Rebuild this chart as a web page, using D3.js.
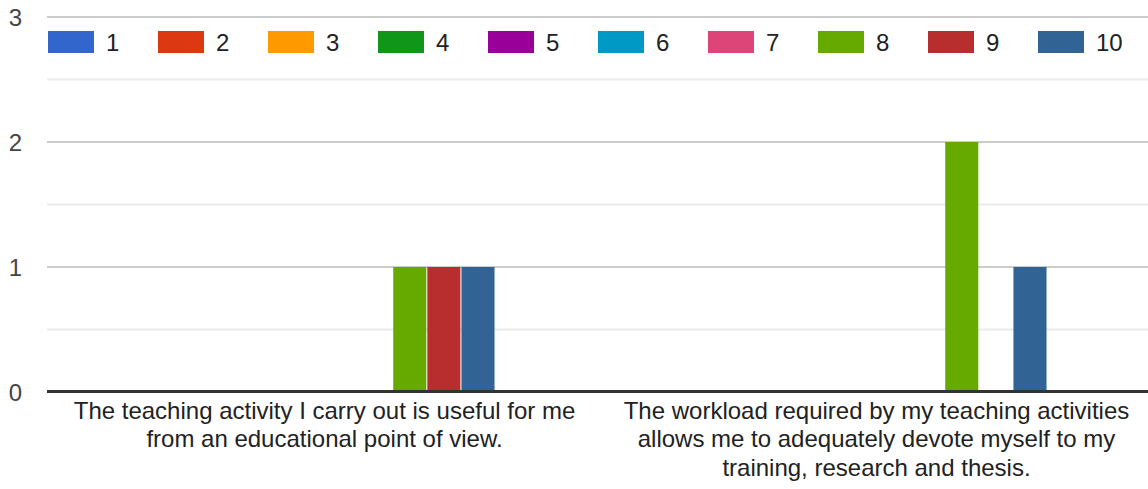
<!DOCTYPE html>
<html>
<head>
<meta charset="utf-8">
<script src="https://cdn.jsdelivr.net/npm/d3@7"></script>
<style>
  html, body { margin: 0; padding: 0; background: #fff; }
  svg { display: block; font-family: "Liberation Sans", Arial, sans-serif; }
</style>
</head>
<body>
<svg id="chart" width="1148" height="489"></svg>
<script>
// ---- data ----
const categories = [
  "The teaching activity I carry out is useful for me from an educational point of view.",
  "The workload required by my teaching activities allows me to adequately devote myself to my training, research and thesis."
];
const seriesNames = ["1", "2", "3", "4", "5", "6", "7", "8", "9", "10"];
const seriesColors = ["#3366cc", "#dc3912", "#ff9900", "#109618", "#990099", "#0099c6", "#dd4477", "#66aa00", "#b82e2e", "#316395"];
const valuesCategory1 = [0, 0, 0, 0, 0, 0, 0, 1, 1, 1];
const valuesCategory2 = [0, 0, 0, 0, 0, 0, 0, 2, 0, 1];
const yMajorTicks = [0, 1, 2, 3];
const yGridTicks = [0.5, 1, 1.5, 2, 2.5, 3];

const values = [valuesCategory1, valuesCategory2];

// ---- layout ----
const svg = d3.select("#chart");
const W = 1148;
const plotLeft = 47, plotRight = 1148;
const y = d3.scaleLinear().domain([0, 3]).range([392, 17]);

const x0 = d3.scaleBand().domain(categories).range([48.5, 1152.5])
  .paddingInner(0.384).paddingOuter(0.192);
const x1 = d3.scaleBand().domain(seriesNames).range([0, x0.bandwidth()])
  .paddingInner(0.03);
const color = d3.scaleOrdinal().domain(seriesNames).range(seriesColors);

// gridlines
svg.append("g").selectAll("line").data(yGridTicks).join("line")
  .attr("x1", plotLeft).attr("x2", plotRight)
  .attr("y1", d => y(d)).attr("y2", d => y(d))
  .attr("stroke", d => Number.isInteger(d) ? "#cccccc" : "#ebebeb")
  .attr("stroke-width", 2);

// y labels
svg.append("g").selectAll("text").data(yMajorTicks).join("text")
  .attr("x", 22).attr("y", d => y(d))
  .attr("text-anchor", "end").attr("dominant-baseline", "central")
  .attr("font-size", 24).attr("fill", "#444")
  .text(d => d);

// bars
const groups = svg.append("g").selectAll("g").data(categories).join("g")
  .attr("transform", d => `translate(${x0(d)},0)`);
groups.selectAll("rect")
  .data((d, i) => seriesNames.map((s, j) => ({ s, v: values[i][j] })).filter(e => e.v > 0))
  .join("rect")
  .attr("x", d => x1(d.s))
  .attr("width", x1.bandwidth())
  .attr("y", d => y(d.v))
  .attr("height", d => y(0) - y(d.v))
  .attr("fill", d => color(d.s));

// baseline
svg.append("line")
  .attr("x1", plotLeft).attr("x2", plotRight)
  .attr("y1", y(0) - 0.5).attr("y2", y(0) - 0.5)
  .attr("stroke", "#333").attr("stroke-width", 3);

// category labels (wrapped)
function wrapLines(text, maxWidth, meas) {
  const words = text.split(" ");
  const lines = [];
  let cur = "";
  words.forEach(w => {
    const test = cur ? cur + " " + w : w;
    meas.text(test);
    if (meas.node().getComputedTextLength() > maxWidth && cur) {
      lines.push(cur);
      cur = w;
    } else {
      cur = test;
    }
  });
  if (cur) lines.push(cur);
  return lines;
}
const meas = svg.append("text").attr("font-size", 24).attr("visibility", "hidden");
const catLabels = svg.append("g");
categories.forEach(c => {
  const lines = wrapLines(c, 525, meas);
  const t = catLabels.append("text")
    .attr("text-anchor", "middle")
    .attr("font-size", 24).attr("fill", "#222");
  lines.forEach((ln, i) => {
    t.append("tspan")
      .attr("x", x0(c) + x0.bandwidth() / 2)
      .attr("y", 418.5 + i * 28.5)
      .text(ln);
  });
});
meas.remove();

// legend
const legend = svg.append("g").selectAll("g").data(seriesNames).join("g")
  .attr("transform", (d, i) => `translate(${48 + i * 110},31)`);
legend.append("rect").attr("width", 46).attr("height", 22)
  .attr("fill", d => color(d));
legend.append("text").attr("x", 58).attr("y", 11)
  .attr("dominant-baseline", "central")
  .attr("font-size", 24).attr("fill", "#222")
  .text(d => d);
</script>
</body>
</html>
